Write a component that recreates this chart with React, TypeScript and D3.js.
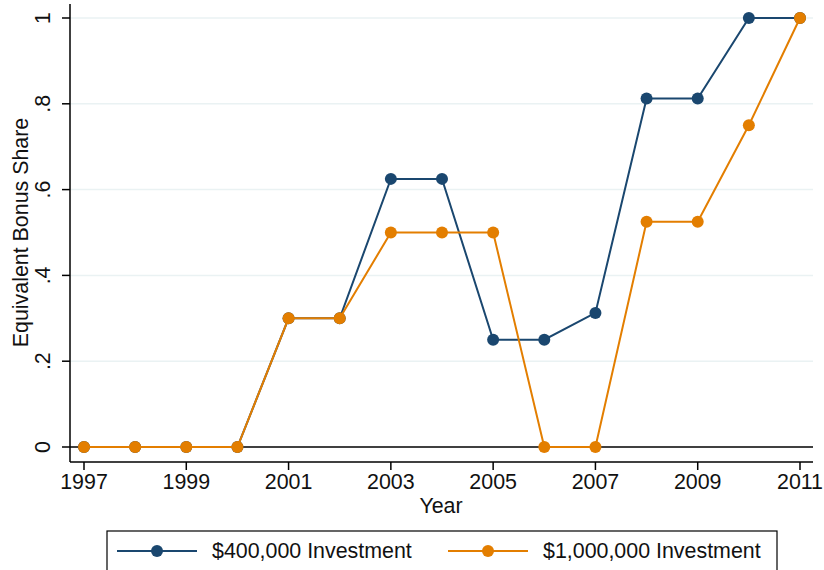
import React from 'react'
import * as d3 from 'd3'

const years = [1997, 1998, 1999, 2000, 2001, 2002, 2003, 2004, 2005, 2006, 2007, 2008, 2009, 2010, 2011]
const invest400k = [0, 0, 0, 0, 0.3, 0.3, 0.625, 0.625, 0.25, 0.25, 0.3125, 0.8125, 0.8125, 1, 1]
const invest1m = [0, 0, 0, 0, 0.3, 0.3, 0.5, 0.5, 0.5, 0, 0, 0.525, 0.525, 0.75, 1]
const xTicks = [1997, 1999, 2001, 2003, 2005, 2007, 2009, 2011]
const yTicks = [0, 0.2, 0.4, 0.6, 0.8, 1]
const yTickLabels = ['0', '.2', '.4', '.6', '.8', '1']
const seriesNames = ['$400,000 Investment', '$1,000,000 Investment']

const W = 824
const H = 570
const font = "'Liberation Sans', Arial, sans-serif"
const navy = '#1a476f'
const orange = '#e37e00'
const fs = 21.4

export default function App() {
  const axisLeft = 70
  const axisBottom = 462
  const xScale = d3.scaleLinear().domain([1997, 2011]).range([84, 800])
  const yScale = d3.scaleLinear().domain([0, 1]).range([447, 18])

  const line = d3
    .line<number>()
    .x((_, i) => xScale(years[i]))
    .y((d) => yScale(d))

  const series = [
    { name: seriesNames[0], values: invest400k, color: navy },
    { name: seriesNames[1], values: invest1m, color: orange },
  ]

  return (
    <svg
      width={W}
      height={H}
      style={{ position: 'absolute', left: 0, top: 0, background: '#fff' }}
      fontFamily={font}
    >
      {/* gridlines */}
      {yTicks.slice(1).map((t) => (
        <line key={t} x1={axisLeft} x2={813} y1={yScale(t)} y2={yScale(t)} stroke="#eaf2f3" strokeWidth={1.5} />
      ))}
      {/* zero line */}
      <line x1={axisLeft} x2={813} y1={yScale(0)} y2={yScale(0)} stroke="#000" strokeWidth={1.5} />

      {/* y axis */}
      <line x1={axisLeft} x2={axisLeft} y1={4} y2={axisBottom} stroke="#000" strokeWidth={1.5} />
      {yTicks.map((t, i) => (
        <g key={t} transform={`translate(${axisLeft},${yScale(t)})`}>
          <line x1={-8} x2={0} stroke="#000" strokeWidth={1.5} />
          <text transform="translate(-20,0) rotate(-90)" textAnchor="middle" fontSize={fs} fill="#111">
            {yTickLabels[i]}
          </text>
        </g>
      ))}
      <text
        transform={`translate(28,${yScale(0.5)}) rotate(-90)`}
        textAnchor="middle"
        fontSize={fs}
        fill="#111"
      >
        Equivalent Bonus Share
      </text>

      {/* x axis */}
      <line x1={axisLeft} x2={813} y1={axisBottom} y2={axisBottom} stroke="#000" strokeWidth={1.5} />
      {xTicks.map((t) => (
        <g key={t} transform={`translate(${xScale(t)},${axisBottom})`}>
          <line y1={0} y2={8} stroke="#000" strokeWidth={1.5} />
          <text y={27} textAnchor="middle" fontSize={fs} fill="#111">
            {t}
          </text>
        </g>
      ))}
      <text x={441} y={513} textAnchor="middle" fontSize={fs} fill="#111">
        Year
      </text>

      {/* series */}
      {series.map((s) => (
        <g key={s.name}>
          <path d={line(s.values) ?? ''} fill="none" stroke={s.color} strokeWidth={2} />
          {s.values.map((v, i) => (
            <circle key={i} cx={xScale(years[i])} cy={yScale(v)} r={6} fill={s.color} />
          ))}
        </g>
      ))}

      {/* legend */}
      <rect x={107} y={531} width={670} height={50} fill="#fff" stroke="#000" strokeWidth={1.2} />
      {series.map((s, i) => {
        const x0 = i === 0 ? 117 : 448
        return (
          <g key={s.name}>
            <line x1={x0} x2={x0 + 80} y1={551} y2={551} stroke={s.color} strokeWidth={2} />
            <circle cx={x0 + 40} cy={551} r={6} fill={s.color} />
            <text x={x0 + 95} y={558} fontSize={fs} fill="#111">
              {s.name}
            </text>
          </g>
        )
      })}
    </svg>
  )
}
